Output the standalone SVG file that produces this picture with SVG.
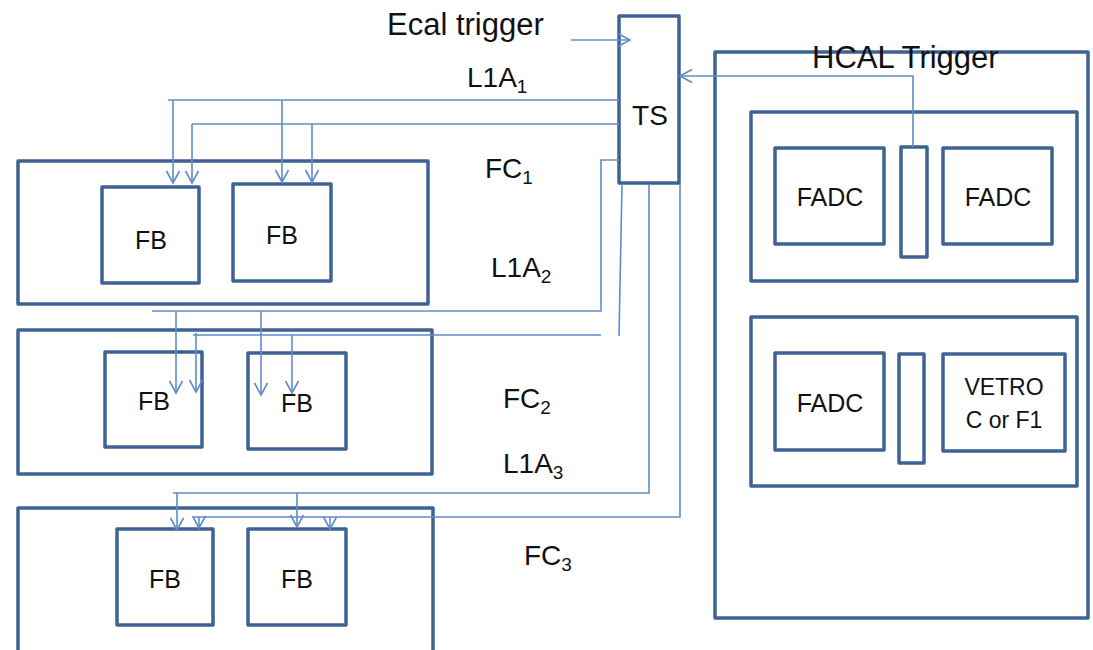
<svg xmlns="http://www.w3.org/2000/svg" width="1093" height="650" viewBox="0 0 1093 650">
<style>
.box{fill:none;stroke:#3E6392;stroke-width:3.5;stroke-linejoin:round}
.con{fill:none;stroke:#618CC9;stroke-width:1.6}
.arr{marker-end:url(#arr)}
text{font-family:"Liberation Sans",Arial,sans-serif;fill:#111}
.t{font-size:31px}
.l{font-size:28px}
.n{font-size:25px;text-anchor:middle}
.sub{font-size:19px}
</style>
<defs>
<marker id="arr" markerUnits="userSpaceOnUse" markerWidth="16" markerHeight="16" refX="13" refY="7" orient="auto" overflow="visible">
<path d="M1,0.5 L13,7 L1,13.5" fill="none" stroke="#618CC9" stroke-width="1.6"/>
</marker>
</defs>
<rect width="1093" height="650" fill="#fff"/>

<g id="labels">
<text class="t" x="387" y="35">Ecal trigger</text>
<text class="l" x="467" y="87">L1A<tspan class="sub" dy="6">1</tspan></text>
<text class="l" x="485" y="178">FC<tspan class="sub" dy="6">1</tspan></text>
<text class="l" x="491" y="277">L1A<tspan class="sub" dy="6">2</tspan></text>
<text class="l" x="503" y="408">FC<tspan class="sub" dy="6">2</tspan></text>
<text class="l" x="503" y="473">L1A<tspan class="sub" dy="6">3</tspan></text>
<text class="l" x="524" y="565">FC<tspan class="sub" dy="6">3</tspan></text>
</g>

<g id="TS">
<rect class="box" x="619" y="16" width="60" height="167"/>
<text class="n" x="650" y="125" style="font-size:28px">TS</text>
</g>

<g id="FC1">
<rect class="box" x="18" y="161" width="410" height="143"/>
<g id="FC1_FB1"><rect class="box" x="102" y="187" width="97" height="96"/><text class="n" x="151" y="249">FB</text></g>
<g id="FC1_FB2"><rect class="box" x="233" y="184" width="98" height="97"/><text class="n" x="282" y="244">FB</text></g>
</g>

<g id="FC2">
<rect class="box" x="18" y="330" width="414" height="144"/>
<g id="FC2_FB1"><rect class="box" x="105" y="352" width="97" height="95"/><text class="n" x="154" y="410">FB</text></g>
<g id="FC2_FB2"><rect class="box" x="248" y="353" width="98" height="96"/><text class="n" x="297" y="412">FB</text></g>
</g>

<g id="FC3">
<rect class="box" x="18" y="508" width="415" height="170"/>
<g id="FC3_FB1"><rect class="box" x="117" y="529" width="96" height="96"/><text class="n" x="165" y="588">FB</text></g>
<g id="FC3_FB2"><rect class="box" x="248" y="529" width="98" height="96"/><text class="n" x="297" y="588">FB</text></g>
</g>

<g id="HCAL">
<rect class="box" x="715" y="52" width="373" height="566"/>
<text class="t" x="812" y="68">HCAL Trigger</text>
<g id="crate1">
<rect class="box" x="751" y="112" width="326" height="169"/>
<g id="FADC1"><rect class="box" x="775" y="148" width="109" height="96"/><text class="n" x="830" y="206">FADC</text></g>
<g id="bar1"><rect class="box" x="901" y="147" width="26" height="110"/></g>
<g id="FADC2"><rect class="box" x="943" y="148" width="109" height="96"/><text class="n" x="998" y="206">FADC</text></g>
</g>
<g id="crate2">
<rect class="box" x="751" y="317" width="326" height="169"/>
<g id="FADC3"><rect class="box" x="775" y="353" width="109" height="97"/><text class="n" x="830" y="412">FADC</text></g>
<g id="bar2"><rect class="box" x="899" y="354" width="25" height="109"/></g>
<g id="VETROC"><rect class="box" x="943" y="354" width="122" height="97"/><text class="n" x="1004" y="395" style="font-size:23px">VETRO</text><text class="n" x="1004" y="428" style="font-size:23px">C or F1</text></g>
</g>
</g>

<g id="connectors">
<path class="con arr" d="M571,40 H630"/>
<path class="con arr" d="M913,147 V76 H680"/>
<path class="con" d="M619,100 H168"/>
<path class="con arr" d="M173,100 V183"/>
<path class="con arr" d="M282,100 V182"/>
<path class="con" d="M619,124 H192"/>
<path class="con arr" d="M192,124 V183"/>
<path class="con arr" d="M312,124 V182"/>
<path class="con" d="M619,160 H601 V311 H152"/>
<path class="con arr" d="M176,311 V393"/>
<path class="con arr" d="M261,311 V395"/>
<path class="con" d="M622,184 L619,336"/>
<path class="con" d="M601,335 H193"/>
<path class="con arr" d="M196,333 V392"/>
<path class="con arr" d="M292,335 V393"/>
<path class="con" d="M649,184 V493 H173"/>
<path class="con arr" d="M177,493 V530"/>
<path class="con arr" d="M297,493 V527"/>
<path class="con" d="M680,184 V517 H194"/>
<path class="con arr" d="M199,517 V528"/>
<path class="con arr" d="M330,517 V529"/>
</g>
</svg>
